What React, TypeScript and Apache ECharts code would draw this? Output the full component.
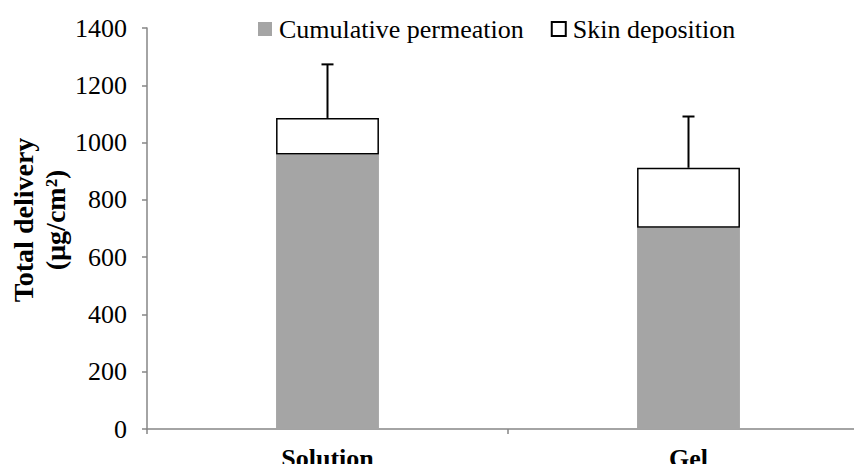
import React, { useEffect, useRef } from "react";
import * as echarts from "echarts";

// Formulations compared
const categories = ["Solution", "Gel"];
// Cumulative permeation (µg/cm²)
const permeation = [958, 703];
// Skin deposition (µg/cm²), stacked on permeation
const deposition = [128, 209];
// Upper error of total delivery (µg/cm²)
const totalError = [187, 179];
// Y axis ticks
const yMin = 0;
const yMax = 1400;
const yStep = 200;

const FONT = "'Liberation Serif', 'Times New Roman', serif";

export default function App() {
  const ref = useRef<HTMLDivElement>(null);

  useEffect(() => {
    if (!ref.current) return;
    const chart = echarts.init(ref.current, undefined, { renderer: "svg" });

    const totals = permeation.map((p, i) => p + deposition[i]);
    const errorData = totals.map((t, i) => [i, t, t + totalError[i]]);

    chart.setOption({
      animation: false,
      backgroundColor: "#ffffff",
      grid: { left: 147, right: 0, top: 28, bottom: 43, containLabel: false },
      legend: {
        data: [
          { name: "Cumulative permeation", icon: "rect" },
          { name: "Skin deposition", icon: "rect" },
        ],
        left: 253,
        top: 11,
        itemWidth: 14,
        itemHeight: 14,
        itemGap: 27,
        textStyle: { fontFamily: FONT, fontSize: 26, color: "#000", padding: [0, 0, 0, 2] },
        selectedMode: false,
      },
      xAxis: {
        type: "category",
        data: categories,
        boundaryGap: true,
        axisLine: { lineStyle: { color: "#868686", width: 1.5 } },
        axisTick: { show: true, length: 5, alignWithLabel: false, lineStyle: { color: "#868686", width: 1.5 } },
        axisLabel: { fontFamily: FONT, fontSize: 26, fontWeight: "bold", color: "#000", margin: 16 },
        splitLine: { show: false },
      },
      yAxis: {
        type: "value",
        min: yMin,
        max: yMax,
        interval: yStep,
        axisLine: { show: true, lineStyle: { color: "#868686", width: 1.5 } },
        axisTick: { show: true, length: 5, lineStyle: { color: "#868686", width: 1.5 } },
        axisLabel: {
          fontFamily: FONT,
          fontSize: 26,
          color: "#000",
          margin: 20,
          formatter: (v: number) => String(v),
        },
        splitLine: { show: false },
      },
      graphic: [
        {
          type: "text",
          x: 39,
          y: 220,
          rotation: Math.PI / 2,
          style: {
            text: "Total delivery\n(µg/cm²)",
            fontFamily: FONT,
            fontSize: 28,
            fontWeight: "bold",
            lineHeight: 32,
            fill: "#000",
            align: "center",
            verticalAlign: "middle",
          },
        },
      ],
      series: [
        {
          name: "Cumulative permeation",
          type: "bar",
          stack: "total",
          barWidth: "28.5%",
          data: permeation,
          itemStyle: { color: "#A5A5A5" },
        },
        {
          name: "Skin deposition",
          type: "bar",
          stack: "total",
          barWidth: "28.5%",
          data: deposition,
          itemStyle: { color: "#ffffff", borderColor: "#000", borderWidth: 1.5 },
        },
        {
          name: "error",
          type: "custom",
          data: errorData,
          z: 5,
          renderItem: (params: any, api: any) => {
            const x = api.value(0);
            const low = api.coord([x, api.value(1)]);
            const high = api.coord([x, api.value(2)]);
            const half = 6;
            return {
              type: "group",
              children: [
                {
                  type: "line",
                  shape: { x1: low[0], y1: low[1], x2: high[0], y2: high[1] },
                  style: { stroke: "#000", lineWidth: 2 },
                },
                {
                  type: "line",
                  shape: { x1: high[0] - half, y1: high[1], x2: high[0] + half, y2: high[1] },
                  style: { stroke: "#000", lineWidth: 2 },
                },
              ],
            };
          },
        },
      ],
    });

    return () => chart.dispose();
  }, []);

  // The plot runs a few pixels past the right edge; the frame clips it.
  return (
    <div style={{ width: 862, height: 472, margin: -8, overflow: "hidden" }}>
      <div ref={ref} style={{ width: 869, height: 472 }} />
    </div>
  );
}
